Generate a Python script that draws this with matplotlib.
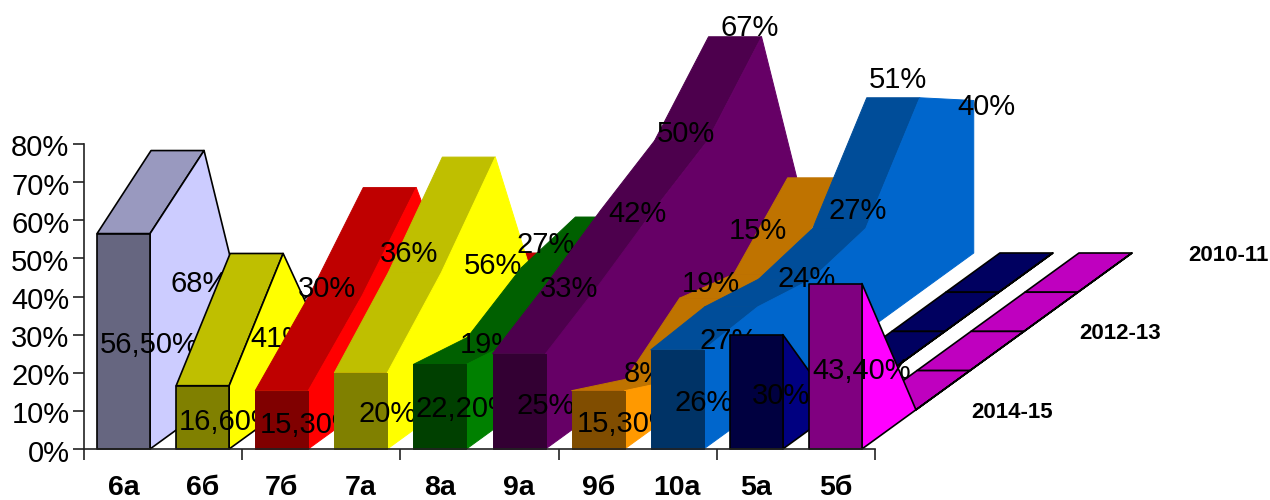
import matplotlib
matplotlib.use('Agg')
import matplotlib.pyplot as plt
from matplotlib.transforms import ScaledTranslation
import numpy as np

plt.rcParams['font.family'] = ['Liberation Sans', 'DejaVu Sans']

# classes on the x axis
classes = ['6а', '6б', '7б', '7а', '8а', '9а', '9б', '10а', '5а', '5б']
years = ['2014-15', '2012-13', '2010-11']
year_steps = [1, 3, 5]
y_ticks = [0, 10, 20, 30, 40, 50, 60, 70, 80]

# values from the front row to the back row, %
v_6a = [56.5, 68, 0, 0, 0, 0]
v_6b = [16.6, 41, 0, 0, 0, 0]
v_7b = [15.3, 30, 48, 0, 0, 0]
v_7a = [20, 36, 56, 0, 0, 0]
v_8a = [22.2, 19, 27, 30, 0, 0]
v_9a = [25, 33, 42, 50, 67, 0]
v_9b = [15.3, 8, 19, 15, 30, 0]
v_10a = [26, 27, 24, 27, 51, 40]
v_5a = [30, 0, 0, 0, 0, 0]
v_5b = [43.4, 0, 0, 0, 0, 0]
values = [v_6a, v_6b, v_7b, v_7a, v_8a, v_9a, v_9b, v_10a, v_5a, v_5b]

# how many rows of each class have a printed label
labels_6a = ['56,50%', '68%']
labels_6b = ['16,60%', '41%']
labels_7b = ['15,30%', '30%']
labels_7a = ['20%', '36%', '56%']
labels_8a = ['22,20%', '19%', '27%']
labels_9a = ['25%', '33%', '42%', '50%', '67%']
labels_9b = ['15,30%', '8%', '19%', '15%']
labels_10a = ['26%', '27%', '24%', '27%', '51%', '40%']
labels_5a = ['30%']
labels_5b = ['43,40%']
labels = [labels_6a, labels_6b, labels_7b, labels_7a, labels_8a,
          labels_9a, labels_9b, labels_10a, labels_5a, labels_5b]

colors = ['#CCCCFF', '#FFFF00', '#FF0000', '#FFFF00', '#008000',
          '#660066', '#FF9900', '#0066CC', '#000080', '#FF00FF']
outlined = [True, True, False, False, False, False, False, False, True, True]

# axes box in pixels of the 1270x500 picture
LEFT, RIGHT, TOP, BOTTOM = 84, 875, 144, 449
PX_X = (RIGHT - LEFT) / 10
PX_Y = (BOTTOM - TOP) / 80

# one row of depth, in data units
DEPTH_X = 54 / PX_X
DEPTH_Y = 39.2 / PX_Y
BAR = 53 / PX_X

FONT = 21

# label shift in pixels (right, down) from the middle of the right edge
nudges = {
    (0, 0): (-1, 2), (0, 1): (-4, 2),
    (1, 0): (-1, 3), (1, 1): (-4, 5),
    (2, 0): (1, 3), (2, 1): (-35, -66),
    (3, 0): (0, 1), (3, 1): (-32, -89), (3, 2): (-2, 0),
    (4, 0): (-2, 0), (4, 1): (-32, -31), (4, 2): (-29, -76),
    (5, 0): (0, 3), (5, 1): (-30, -60), (5, 2): (-16, -79),
    (5, 3): (-22, -104), (5, 4): (-12, -138),
    (6, 0): (1, 2), (6, 1): (-34, -23), (6, 2): (-22, -52), (6, 3): (-29, -74),
    (7, 0): (0, 2), (7, 1): (-29, -19), (7, 2): (-5, -48), (7, 3): (-8, -71),
    (7, 4): (-22, -117), (7, 5): (13, -72),
    (8, 0): (-2, 2),
    (9, 0): (0, 3),
}


def shade(color, k):
    r, g, b = matplotlib.colors.to_rgb(color)
    return (r * k, g * k, b * k)


def face(ax, xs, ys, color, z, black):
    """One flat face; faces without outline get a hairline of their own colour"""
    edge = 'black' if black else color
    width = 1.2 if black else 0.7
    ax.fill(xs, ys, facecolor=color, edgecolor=edge, linewidth=width,
            joinstyle='round', clip_on=False, zorder=z)


def draw_series(ax, i):
    """Ribbon of one class: top faces, right wall, front face, labels"""
    v = values[i]
    z = 10 * (i + 1)
    x0 = i + 0.5 - BAR / 2
    x1 = i + 0.5 + BAR / 2
    n = len(v)

    # top faces, from back to front; a face turned away is not seen
    for k in range(n - 2, -1, -1):
        y_a = v[k] + k * DEPTH_Y
        y_b = v[k + 1] + (k + 1) * DEPTH_Y
        if y_b <= y_a:
            continue
        face(ax, [x0 + k * DEPTH_X, x1 + k * DEPTH_X,
                  x1 + (k + 1) * DEPTH_X, x0 + (k + 1) * DEPTH_X],
             [y_a, y_a, y_b, y_b], shade(colors[i], 0.75), z, outlined[i])

    # right wall
    steps = np.arange(n)
    wall_x = x1 + steps * DEPTH_X
    wall_y = np.array(v) + steps * DEPTH_Y
    face(ax, np.r_[wall_x, wall_x[-1], x1], np.r_[wall_y, (n - 1) * DEPTH_Y, 0],
         colors[i], z + 1, outlined[i])

    # front face
    face(ax, [x0, x1, x1, x0], [0, 0, v[0], v[0]], shade(colors[i], 0.5), z + 2, outlined[i])

    for k, text in enumerate(labels[i]):
        dx, dy = nudges[(i, k)]
        ax.annotate(text, (x1 + k * DEPTH_X, k * DEPTH_Y + v[k] / 2),
                    xytext=(dx, -dy - 2), textcoords='offset pixels',
                    ha='center', va='center', fontsize=FONT, color='black',
                    zorder=z + 5, annotation_clip=False)


def main():
    fig = plt.figure(figsize=(12.7, 5), dpi=100, facecolor='white')
    ax = fig.add_axes([LEFT / 1270, 1 - BOTTOM / 500,
                       (RIGHT - LEFT) / 1270, (BOTTOM - TOP) / 500])
    ax.set_xlim(0, 10)
    ax.set_ylim(0, 80)
    ax.patch.set_visible(False)

    for i in range(len(classes)):
        draw_series(ax, i)

    # axes
    ax.spines['top'].set_visible(False)
    ax.spines['right'].set_visible(False)
    for side in ['left', 'bottom']:
        ax.spines[side].set_linewidth(1.2)
        ax.spines[side].set_color('#222222')
        ax.spines[side].set_zorder(200)
    ax.set_yticks(y_ticks, labels=[f'{t}%' for t in y_ticks])
    ax.tick_params(axis='y', length=8, width=1.2, color='#222222', labelsize=FONT, pad=2.5)
    shift = ScaledTranslation(0, -1.5 / 100, fig.dpi_scale_trans)
    for t in ax.get_yticklabels():
        t.set_transform(t.get_transform() + shift)
    ax.set_xticks(np.arange(0, 11, 2), labels=[])
    ax.tick_params(axis='x', which='major', length=8, width=1.2, color='#222222')
    ax.set_xticks(np.arange(len(classes)) + 0.5, labels=classes, minor=True)
    ax.tick_params(axis='x', which='minor', length=0, labelsize=20.5, pad=19)
    for t in ax.get_xticklabels(minor=True):
        t.set_fontweight('bold')

    # depth axis labels
    for name, k in zip(years, year_steps):
        ax.text(10 + k * DEPTH_X + 83 / PX_X, k * DEPTH_Y - 2.5 / PX_Y, name,
                ha='center', va='center', fontsize=16, fontweight='bold',
                clip_on=False, zorder=300)

    fig.savefig('out.png', dpi=100, facecolor='white')


if __name__ == '__main__':
    main()
